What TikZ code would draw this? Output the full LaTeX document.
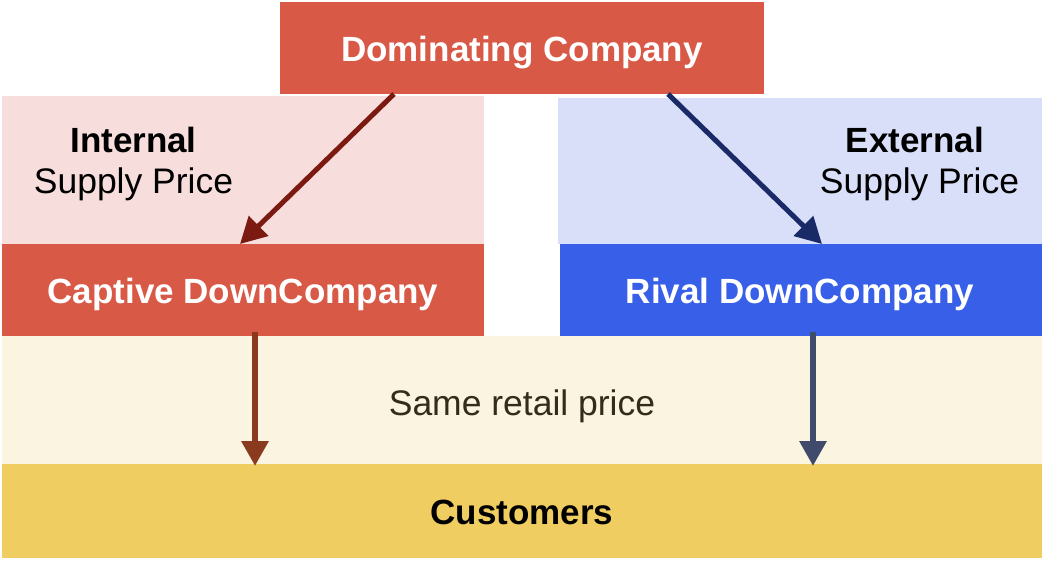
\documentclass[tikz,border=0pt]{standalone}
\usepackage{fontspec}
\setmainfont{Liberation Sans}
\usetikzlibrary{arrows.meta,calc}
\definecolor{domred}{HTML}{D95947}
\definecolor{pinkbg}{HTML}{F7DDDB}
\definecolor{bluebg}{HTML}{D9DFF8}
\definecolor{rivalblue}{HTML}{375FE8}
\definecolor{yellowbg}{HTML}{FBF4E0}
\definecolor{custyellow}{HTML}{EFCD60}
\definecolor{arrred}{HTML}{7A1A10}
\definecolor{arrnavy}{HTML}{1A2A66}
\definecolor{arrbrown}{HTML}{8A3A1E}
\definecolor{arrslate}{HTML}{404A6A}
\definecolor{darktext}{HTML}{332C1C}
\tikzset{
  box/.style={anchor=north west, inner sep=0pt, outer sep=0pt, draw=none},
  lbl/.style={anchor=base, inner sep=0pt, font=\fontsize{35.5}{41}\selectfont},
  blbl/.style={lbl, font=\fontsize{35}{41}\selectfont\bfseries},
  diag/.style={line width=5pt, -{Triangle[length=26pt,width=27pt]}},
  vert/.style={line width=6pt, -{Triangle[length=25pt,width=26pt]}}
}
\begin{document}
\begin{tikzpicture}[x=1pt,y=-1pt]
\useasboundingbox (0,0) rectangle (1048,560);
\fill[white] (0,0) rectangle (1048,560);
% boxes
\node[box, fill=pinkbg, minimum width=482pt, minimum height=148pt] (intbg) at (2,96) {};
\node[box, fill=bluebg, minimum width=484pt, minimum height=146pt] (extbg) at (558,98) {};
\node[box, fill=yellowbg, minimum width=1040pt, minimum height=128pt] (retail) at (2,336) {};
\node[box, fill=custyellow, minimum width=1040pt, minimum height=94pt] (cust) at (2,464) {};
\node[box, fill=domred, minimum width=484pt, minimum height=92pt] (dom) at (280,2) {};
\node[box, fill=domred, minimum width=482pt, minimum height=92pt] (cap) at (2,244) {};
\node[box, fill=rivalblue, minimum width=482pt, minimum height=92pt] (rival) at (560,244) {};
% labels
\node[blbl, text=white] (domt) at (522,61) {Dominating Company};
\node[blbl, text=white] (capt) at (243,303) {Captive DownCompany};
\node[blbl, text=white] (rivt) at (800,303) {Rival DownCompany};
\node[blbl, text=black] (intt) at (133.5,152) {Internal};
\node[lbl, text=black] (ints) at (133.5,193) {Supply Price};
\node[blbl, text=black] (extt) at (915,152) {External};
\node[lbl, text=black] (exts) at (919.5,193) {Supply Price};
\node[lbl, text=darktext] (rett) at (522,415) {Same retail price};
\node[blbl, text=black] (custt) at (522,524) {Customers};
% arrows
\draw[diag, draw=arrred, fill=arrred] ($(dom.south west)+(114,0)$) -- ($(cap.north west)+(238,0)$);
\draw[diag, draw=arrnavy, fill=arrnavy] ($(dom.south west)+(388,0)$) -- ($(rival.north west)+(262,0)$);
\draw[vert, draw=arrbrown, fill=arrbrown] ($(cap.south west)+(253,-4)$) -- ($(cust.north west)+(253,2)$);
\draw[vert, draw=arrslate, fill=arrslate] ($(rival.south west)+(253,-4)$) -- ($(cust.north west)+(811,2)$);
\end{tikzpicture}
\end{document}
